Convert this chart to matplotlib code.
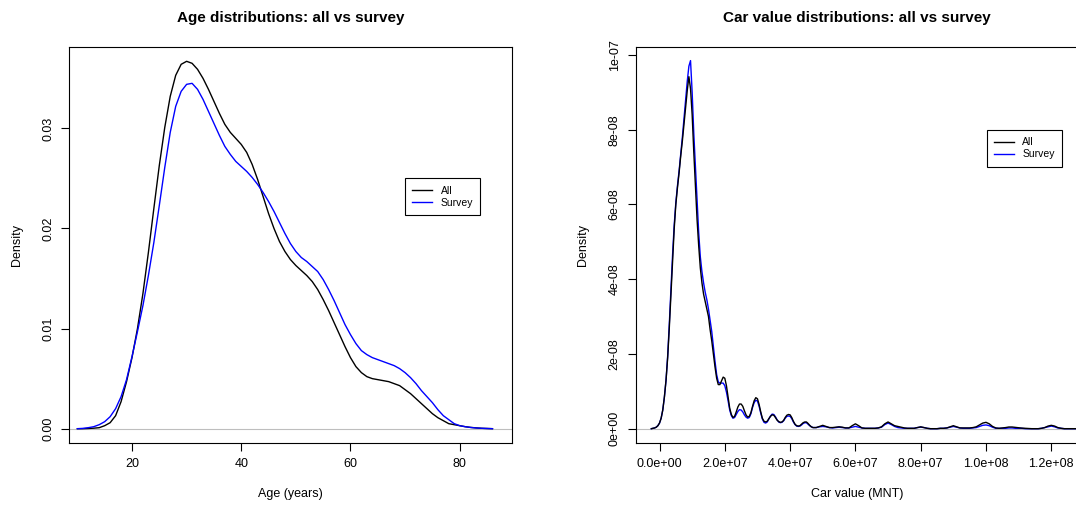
import numpy as np
import matplotlib
matplotlib.use('Agg')
import matplotlib.pyplot as plt
import matplotlib.ticker as ticker

plt.rcParams['font.family'] = ['Liberation Sans', 'DejaVu Sans']

# ------------------------------------------------------------------------------
# Data (kernel density curves)
# ------------------------------------------------------------------------------
age_years = list(range(10, 87))

age_dens_all = [
    0.0000, 0.0000, 0.00002, 0.00005, 0.0001, 0.0003, 0.0006, 0.0013, 0.0027, 0.0047,   # 10-19
    0.0071, 0.0100, 0.0135, 0.0176, 0.0220, 0.0263, 0.0301, 0.0332, 0.0353, 0.0364,     # 20-29
    0.0367, 0.0365, 0.0359, 0.0350, 0.0339, 0.0327, 0.0315, 0.0304, 0.0296, 0.0290,     # 30-39
    0.0284, 0.0276, 0.0264, 0.0249, 0.0232, 0.0215, 0.0200, 0.0187, 0.0177, 0.0169,     # 40-49
    0.0163, 0.0158, 0.0153, 0.0147, 0.0139, 0.0129, 0.0118, 0.0106, 0.0094, 0.0082,     # 50-59
    0.0071, 0.0062, 0.0056, 0.0052, 0.0050, 0.0049, 0.0048, 0.0047, 0.0045, 0.0043,     # 60-69
    0.0039, 0.0035, 0.0030, 0.0025, 0.0020, 0.0015, 0.0011, 0.0008, 0.0005, 0.0004,     # 70-79
    0.0003, 0.0002, 0.00013, 0.00008, 0.00004, 0.00002, 0.0000,                         # 80-86
]

age_dens_survey = [
    0.0000, 0.00003, 0.0001, 0.0002, 0.0004, 0.0007, 0.0012, 0.0020, 0.0032, 0.0049,    # 10-19
    0.0072, 0.0097, 0.0123, 0.0153, 0.0186, 0.0223, 0.0261, 0.0296, 0.0322, 0.0337,     # 20-29
    0.0344, 0.0345, 0.0339, 0.0329, 0.0317, 0.0305, 0.0293, 0.0282, 0.0274, 0.0267,     # 30-39
    0.0262, 0.0257, 0.0251, 0.0244, 0.0236, 0.0227, 0.0217, 0.0206, 0.0195, 0.0185,     # 40-49
    0.0177, 0.0171, 0.0167, 0.0162, 0.0157, 0.0149, 0.0139, 0.0128, 0.0116, 0.0104,     # 50-59
    0.0094, 0.0085, 0.0078, 0.0074, 0.0071, 0.0069, 0.0067, 0.0065, 0.0063, 0.0060,     # 60-69
    0.0056, 0.0051, 0.0045, 0.0038, 0.0032, 0.0026, 0.0019, 0.0013, 0.0009, 0.0005,     # 70-79
    0.0003, 0.0002, 0.00012, 0.00007, 0.00004, 0.00002, 0.0000,                         # 80-86
]

# car value in millions of MNT, density in units of 1e-8
car_value_m = ([-2.5 + 0.5 * i for i in range(100)]          # -2.5 ... 47.0
               + list(range(48, 127)) + [128, 130])

car_dens_all = [
    0.00, 0.01, 0.02, 0.04, 0.08, 0.15, 0.28, 0.50, 0.85, 1.30,
    1.90, 2.70, 3.60, 4.50, 5.35, 6.00, 6.45, 6.85, 7.30, 7.70,
    8.15, 8.60, 9.05, 9.42, 9.10, 8.40, 7.40, 6.50, 5.60, 4.90,
    4.30, 3.90, 3.60, 3.40, 3.20, 3.00, 2.65, 2.35, 2.00, 1.65,
    1.35, 1.18, 1.18, 1.28, 1.38, 1.35, 1.15, 0.85, 0.55, 0.38,
    0.30, 0.33, 0.45, 0.58, 0.66, 0.66, 0.60, 0.48, 0.37, 0.31,
    0.33, 0.43, 0.60, 0.75, 0.83, 0.80, 0.65, 0.45, 0.28, 0.20,
    0.18, 0.20, 0.27, 0.33, 0.37, 0.36, 0.30, 0.23, 0.19, 0.17,
    0.18, 0.22, 0.30, 0.36, 0.38, 0.37, 0.30, 0.20, 0.12, 0.08,
    0.07, 0.08, 0.12, 0.16, 0.18, 0.18, 0.14, 0.09, 0.05, 0.03,
    # 48 ... 126, 128, 130
    0.03, 0.06, 0.09, 0.06, 0.03, 0.03, 0.04, 0.05, 0.04, 0.02,
    0.02, 0.08, 0.13, 0.08, 0.02, 0.01, 0.01, 0.01, 0.01, 0.02,
    0.05, 0.13, 0.18, 0.13, 0.08, 0.06, 0.04, 0.02, 0.01, 0.01,
    0.01, 0.03, 0.05, 0.03, 0.01, 0.00, 0.00, 0.00, 0.01, 0.01,
    0.02, 0.05, 0.08, 0.05, 0.02, 0.02, 0.02, 0.02, 0.03, 0.05,
    0.10, 0.15, 0.17, 0.13, 0.06, 0.02, 0.01, 0.02, 0.03, 0.045,
    0.045, 0.035, 0.025, 0.015, 0.01, 0.005, 0.00, 0.00, 0.00, 0.01,
    0.03, 0.07, 0.09, 0.07, 0.03, 0.01, 0.00, 0.00, 0.00, 0.00,
    0.00,
]

car_dens_survey = [
    0.00, 0.01, 0.02, 0.04, 0.08, 0.15, 0.28, 0.50, 0.85, 1.30,
    1.95, 2.80, 3.75, 4.65, 5.45, 6.05, 6.50, 6.90, 7.35, 7.80,
    8.30, 8.80, 9.30, 9.70, 9.85, 9.00, 7.90, 7.00, 6.05, 5.25,
    4.60, 4.20, 3.90, 3.65, 3.45, 3.20, 2.90, 2.60, 2.20, 1.80,
    1.45, 1.25, 1.22, 1.22, 1.22, 1.15, 0.98, 0.75, 0.50, 0.35,
    0.28, 0.30, 0.38, 0.46, 0.51, 0.50, 0.45, 0.37, 0.31, 0.28,
    0.30, 0.40, 0.57, 0.70, 0.76, 0.74, 0.60, 0.42, 0.26, 0.17,
    0.15, 0.18, 0.26, 0.34, 0.39, 0.38, 0.32, 0.24, 0.18, 0.16,
    0.17, 0.21, 0.28, 0.33, 0.34, 0.33, 0.27, 0.18, 0.11, 0.07,
    0.06, 0.07, 0.10, 0.14, 0.16, 0.16, 0.12, 0.08, 0.05, 0.03,
    # 48 ... 126, 128, 130
    0.03, 0.05, 0.06, 0.05, 0.03, 0.02, 0.03, 0.04, 0.03, 0.02,
    0.02, 0.04, 0.06, 0.04, 0.02, 0.01, 0.01, 0.01, 0.01, 0.02,
    0.04, 0.11, 0.15, 0.11, 0.06, 0.03, 0.02, 0.01, 0.01, 0.01,
    0.01, 0.03, 0.04, 0.03, 0.01, 0.00, 0.00, 0.00, 0.01, 0.01,
    0.02, 0.04, 0.06, 0.04, 0.02, 0.01, 0.01, 0.01, 0.02, 0.03,
    0.06, 0.09, 0.10, 0.08, 0.04, 0.01, 0.01, 0.01, 0.01, 0.02,
    0.02, 0.01, 0.01, 0.01, 0.00, 0.00, 0.00, 0.00, 0.00, 0.01,
    0.03, 0.05, 0.07, 0.05, 0.02, 0.01, 0.00, 0.00, 0.00, 0.00,
    0.00,
]

age_yticks = [0.00, 0.01, 0.02, 0.03]
age_xticks = [20, 40, 60, 80]
car_yticks = [0, 2e-8, 4e-8, 6e-8, 8e-8, 1e-7]
car_xticks = [0, 2e7, 4e7, 6e7, 8e7, 1e8, 1.2e8]

# ------------------------------------------------------------------------------
# Plotting
# ------------------------------------------------------------------------------
W, H = 1076, 509
fig = plt.figure(figsize=(W / 100, H / 100), dpi=100)

ax1 = fig.add_axes([69.3 / W, (H - 442.7) / H, 442.4 / W, 396 / H])
ax2 = fig.add_axes([636 / W, (H - 442.7) / H, 442.4 / W, 396 / H])


def style_axes(ax):
    for sp in ax.spines.values():
        sp.set_linewidth(0.8)
        sp.set_color('black')
    ax.tick_params(axis='both', direction='out', length=5.5, width=0.8,
                   labelsize=9, pad=5.5)
    for lab in ax.get_yticklabels():
        lab.set_rotation(90)
        lab.set_va('center')


# --- Age panel ---
ax1.axhline(0, color='#BEBEBE', linewidth=0.8, zorder=1)
ax1.plot(age_years, age_dens_all, color='black', linewidth=1.0, label='All', zorder=2)
ax1.plot(age_years, age_dens_survey, color='blue', linewidth=1.0, label='Survey', zorder=3)
ax1.set_xlim(8.52, 89.52)
ax1.set_ylim(-0.0014, 0.03816)
ax1.set_xticks(age_xticks)
ax1.set_yticks(age_yticks)
ax1.yaxis.set_major_formatter(ticker.FormatStrFormatter('%.2f'))
ax1.set_title('Age distributions: all vs survey', fontsize=11, fontweight='bold', pad=18)
ax1.set_xlabel('Age (years)', fontsize=9, labelpad=13)
ax1.set_ylabel('Density', fontsize=9, labelpad=14)
style_axes(ax1)

# --- Car value panel ---
car_x = np.array(car_value_m) * 1e6
ax2.axhline(0, color='#BEBEBE', linewidth=0.8, zorder=1)
ax2.plot(car_x, np.array(car_dens_survey) * 1e-8, color='blue', linewidth=1.0,
         label='Survey', zorder=2)
ax2.plot(car_x, np.array(car_dens_all) * 1e-8, color='black', linewidth=1.0,
         label='All', zorder=3)
ax2.set_xlim(-7.2e6, 1.283e8)
ax2.set_ylim(-3.75e-9, 1.0222e-7)
ax2.set_xticks(car_xticks)
ax2.set_yticks(car_yticks)
ax2.xaxis.set_major_formatter(ticker.FuncFormatter(lambda v, p: '%.1e' % v))
ax2.yaxis.set_major_formatter(ticker.FuncFormatter(lambda v, p: '%.0e' % v))
ax2.set_title('Car value distributions: all vs survey', fontsize=11, fontweight='bold', pad=18)
ax2.set_xlabel('Car value (MNT)', fontsize=9, labelpad=13)
ax2.set_ylabel('Density', fontsize=9, labelpad=14)
style_axes(ax2)


def add_legend(ax, anchor):
    h, l = ax.get_legend_handles_labels()
    order = [l.index('All'), l.index('Survey')]
    leg = ax.legend([h[i] for i in order], [l[i] for i in order],
                    loc='upper left', bbox_to_anchor=anchor, borderaxespad=0,
                    fontsize=7.5, fancybox=False, framealpha=1, edgecolor='black',
                    borderpad=0.7, handlelength=1.9, handletextpad=0.8,
                    labelspacing=0.2)
    leg.get_frame().set_linewidth(0.8)


add_legend(ax1, (0.759, 0.6677))
add_legend(ax2, (0.7927, 0.7896))

fig.savefig('out.png', dpi=100)
